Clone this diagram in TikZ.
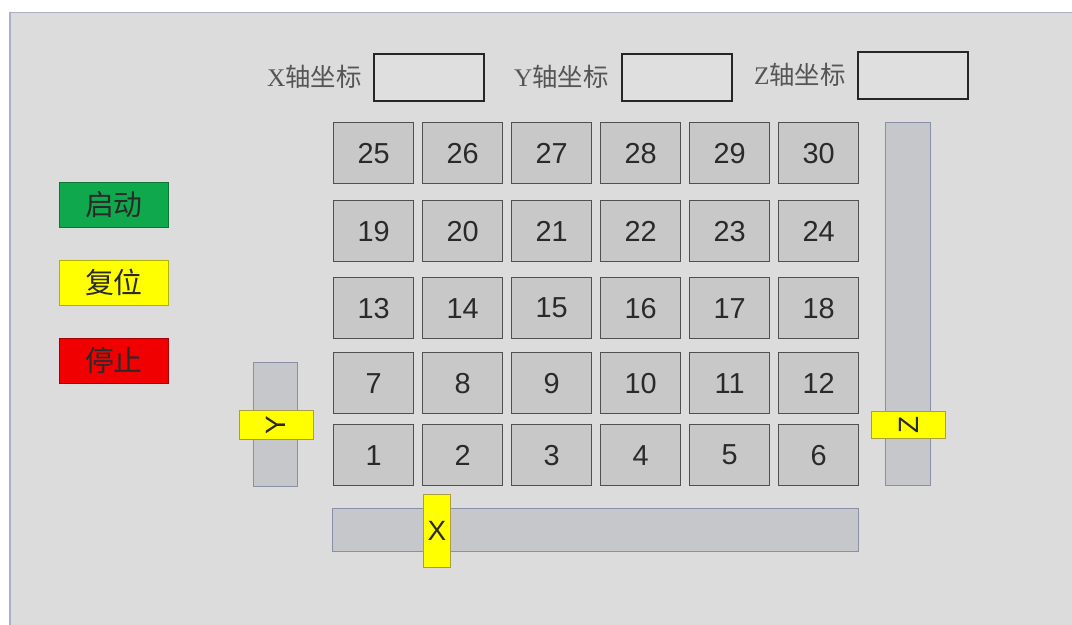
\documentclass[tikz,border=0pt]{standalone}
\usepackage{fontspec}
\setmainfont{Liberation Sans}
\newfontfamily\cjk{Noto Sans CJK SC}
\newfontfamily\serifx{Liberation Serif}
\definecolor{panelbg}{HTML}{DCDCDC}
\definecolor{framec}{HTML}{A9B1C2}
\definecolor{cellfill}{HTML}{C8C8C8}
\definecolor{celldraw}{HTML}{505050}
\definecolor{trackfill}{HTML}{C6C7CA}
\definecolor{trackdraw}{HTML}{8890A8}
\definecolor{thumbdraw}{HTML}{A8A040}
\definecolor{btngreen}{HTML}{10A84C}
\definecolor{btnyellow}{HTML}{FFFF00}
\definecolor{btnred}{HTML}{F00000}
\definecolor{txtdark}{HTML}{2A2A2A}
\definecolor{lblgray}{HTML}{555555}
\begin{document}
\begin{tikzpicture}[x=1bp,y=-1bp,
  cell/.style={draw=celldraw,line width=1.3bp,fill=cellfill,minimum width=80bp,minimum height=61bp,inner sep=0pt,anchor=north west,text=txtdark,font=\fontsize{29}{29}\selectfont},
  btn/.style={draw=#1!70!black,line width=0.8bp,fill=#1,minimum width=109bp,minimum height=45bp,inner sep=0pt,anchor=north west,text=txtdark,font=\cjk\fontsize{29}{29}\selectfont},
  track/.style={draw=trackdraw,line width=1bp,fill=trackfill,inner sep=0pt,anchor=north west},
  thumb/.style={draw=thumbdraw,line width=0.8bp,fill=btnyellow,inner sep=0pt,anchor=north west,text=txtdark,font=\fontsize{28}{28}\selectfont},
  inbox/.style={draw=black!85,line width=1.8bp,fill=panelbg!90!white,minimum width=110bp,minimum height=47bp,inner sep=0pt,anchor=north west},
  lbl/.style={anchor=east,inner sep=0pt,text=lblgray,font=\cjk\fontsize{25.5}{25.5}\selectfont}]
\useasboundingbox (0,0) rectangle (1072,625);
\fill[white] (0,0) rectangle (1072,625);
\node[draw=framec,line width=1.5bp,fill=panelbg,minimum width=1072bp,minimum height=620bp,anchor=north west,inner sep=0pt] (panel) at (9,12) {};
% coordinate labels and boxes
\node[inbox] (xbox) at (373,53) {};
\node[inbox] (ybox) at (621,53) {};
\node[inbox,minimum width=110bp] (zbox) at (857,51) {};
\node[lbl] (xlbl) at (362,77) {{\serifx X}轴坐标};
\node[lbl] (ylbl) at (609,77) {{\serifx Y}轴坐标};
\node[lbl] (zlbl) at (846,75) {{\serifx Z}轴坐标};
% buttons
\node[btn=btngreen] (start) at (59,182) {启动};
\node[btn=btnyellow] (reset) at (59,260) {复位};
\node[btn=btnred] (stop) at (59,338) {停止};
% grid
\foreach \r/\ty [count=\ri from 0] in {0/424,1/352,2/277,3/200,4/122}{
  \foreach \c/\tx [count=\ci from 1] in {0/333,1/422,2/511,3/600,4/689,5/778}{
    \pgfmathtruncatemacro{\num}{\r*6+\ci}
    \node[cell] (c\num) at (\tx,\ty) {\num};
  }
}
% sliders
\node[track,minimum width=526bp,minimum height=43bp] (xtrack) at (332,508) {};
\node[thumb,minimum width=27bp,minimum height=73bp] (xthumb) at (423,494) {X};
\node[track,minimum width=44bp,minimum height=124bp] (ytrack) at (253,362) {};
\node[thumb,minimum width=74bp,minimum height=29bp] (ythumb) at (239,410) {};
\node[rotate=90,inner sep=0pt,text=txtdark,font=\fontsize{28}{28}\selectfont] (ylet) at (ythumb.center) {Y};
\node[track,minimum width=45bp,minimum height=363bp] (ztrack) at (885,122) {};
\node[thumb,minimum width=74bp,minimum height=27bp] (zthumb) at (871,411) {};
\node[rotate=90,inner sep=0pt,text=txtdark,font=\fontsize{28}{28}\selectfont] (zlet) at (zthumb.center) {Z};
\end{tikzpicture}
\end{document}
